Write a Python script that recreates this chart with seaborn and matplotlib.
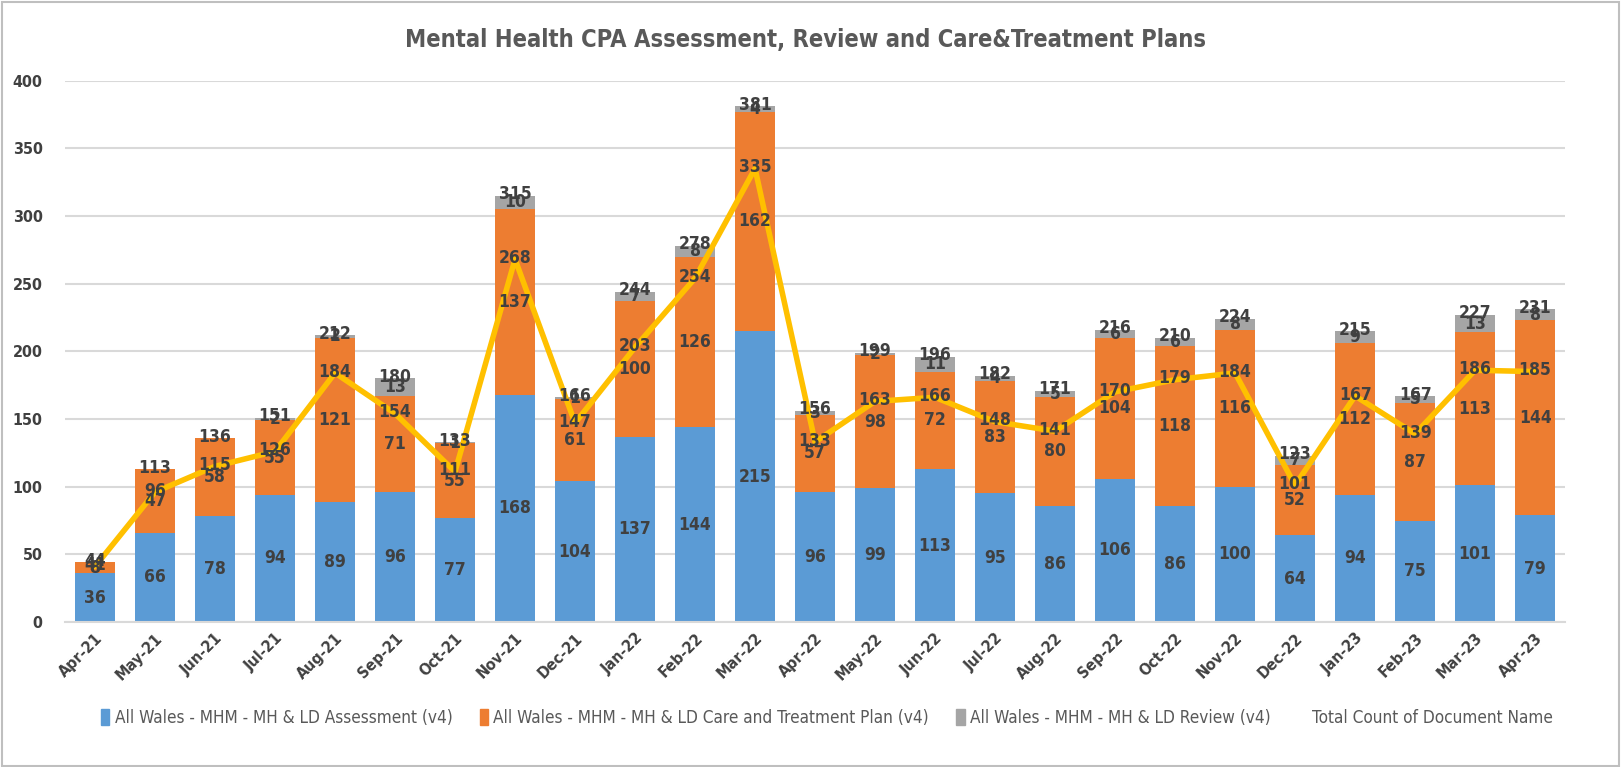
import matplotlib
matplotlib.use("Agg")
import matplotlib.pyplot as plt
from matplotlib.patches import Patch, Rectangle
import seaborn as sns
import numpy as np

months = ["Apr-21", "May-21", "Jun-21", "Jul-21", "Aug-21", "Sep-21", "Oct-21",
          "Nov-21", "Dec-21", "Jan-22", "Feb-22", "Mar-22", "Apr-22", "May-22",
          "Jun-22", "Jul-22", "Aug-22", "Sep-22", "Oct-22", "Nov-22", "Dec-22",
          "Jan-23", "Feb-23", "Mar-23", "Apr-23"]
assessment = [36, 66, 78, 94, 89, 96, 77, 168, 104, 137, 144, 215, 96, 99,
              113, 95, 86, 106, 86, 100, 64, 94, 75, 101, 79]
care_plan = [8, 47, 58, 55, 121, 71, 55, 137, 61, 100, 126, 162, 57, 98,
             72, 83, 80, 104, 118, 116, 52, 112, 87, 113, 144]
review = [0, 0, 0, 2, 2, 13, 1, 10, 1, 7, 8, 4, 3, 2,
          11, 4, 5, 6, 6, 8, 7, 9, 5, 13, 8]
total_count = [44, 113, 136, 151, 212, 180, 133, 315, 166, 244, 278, 381, 156, 199,
               196, 182, 171, 216, 210, 224, 123, 215, 167, 227, 231]
line_values = [41, 96, 115, 126, 184, 154, 111, 268, 147, 203, 254, 335, 133, 163,
               166, 148, 141, 170, 179, 184, 101, 167, 139, 186, 185]

series_names = ["All Wales - MHM - MH & LD Assessment (v4)",
                "All Wales - MHM - MH & LD Care and Treatment Plan (v4)",
                "All Wales - MHM - MH & LD Review (v4)",
                "Total Count of Document Name"]

BLUE, ORANGE, GREY, YELLOW = "#5B9BD5", "#ED7D31", "#A5A5A5", "#FFC000"
TEXT = "#404040"

sns.set_theme(style="white")
plt.rcParams["font.family"] = ["DejaVu Sans"]
plt.rcParams["font.stretch"] = "condensed"

fig = plt.figure(figsize=(16.21, 7.67), dpi=100)
ax = fig.add_axes([0.0401, 0.189, 0.9254, 0.706])

x = np.arange(len(months))
a = np.array(assessment)
c = np.array(care_plan)
r = np.array(review)

w = 0.67
bar = dict(width=w, ax=ax, saturation=1, linewidth=0, zorder=2)
sns.barplot(x=months, y=a, color=BLUE, **bar)
sns.barplot(x=months, y=c, bottom=a, color=ORANGE, **bar)
sns.barplot(x=months, y=r, bottom=a + c, color=GREY, **bar)
sns.lineplot(x=x, y=line_values, color=YELLOW, linewidth=4, ax=ax, zorder=3)

lab = dict(ha="center", va="center", fontsize=12.5, fontweight="bold", color=TEXT, zorder=5)
for i in x:
    ax.text(i, a[i] / 2, str(a[i]), **lab)
    ax.text(i, a[i] + c[i] / 2, str(c[i]), **lab)
    if r[i] > 0:
        ax.text(i, a[i] + c[i] + r[i] / 2, str(r[i]), **lab)
    ax.text(i, total_count[i] + 1, str(total_count[i]), **lab)
    ax.text(i, line_values[i] + 1, str(line_values[i]), **lab)

ax.set_xlim(-0.5, len(months) - 0.5)
ax.set_ylim(0, 400)
ax.set_yticks(range(0, 401, 50))
ax.yaxis.grid(True, color="#D9D9D9", linewidth=1.5, zorder=0)
ax.set_axisbelow(True)
for s in ["top", "right", "left"]:
    ax.spines[s].set_visible(False)
ax.spines["bottom"].set_color("#D9D9D9")
ax.spines["bottom"].set_linewidth(1.5)
ax.tick_params(axis="both", length=0, labelsize=11.5, labelcolor=TEXT)
ax.set_xticks(x)
ax.set_xticklabels(months, rotation=45, ha="right", rotation_mode="anchor", fontweight="bold")
for t in ax.get_yticklabels():
    t.set_fontweight("bold")
ax.tick_params(axis="y", pad=16)
ax.tick_params(axis="x", pad=6)
ax.set_xlabel("")
ax.set_ylabel("")

fig.text(0.497, 0.948, "Mental Health CPA Assessment, Review and Care&Treatment Plans",
         ha="center", va="center", fontsize=17, fontweight="bold", color="#595959")

handles = [Patch(color=BLUE), Patch(color=ORANGE), Patch(color=GREY),
           Patch(color="none")]
fig.legend(handles, series_names, loc="center", bbox_to_anchor=(0.51, 0.064), ncol=4,
           frameon=False, fontsize=12.3, handlelength=0.5, handleheight=1.0,
           handletextpad=0.3, columnspacing=1.6, labelcolor="#595959")

fig.add_artist(Rectangle((0.001, 0.001), 0.998, 0.997, transform=fig.transFigure,
                         fill=False, edgecolor="#BFBFBF", linewidth=1.5))

fig.savefig("out.png", dpi=100)
